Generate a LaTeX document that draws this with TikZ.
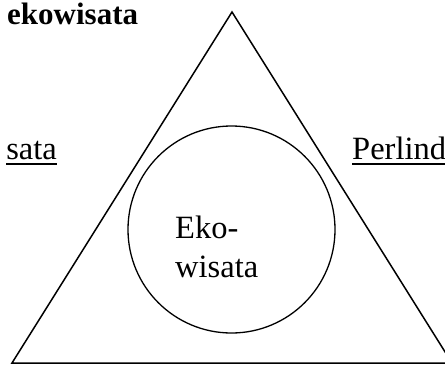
\documentclass[tikz,border=0pt]{standalone}
\usepackage{fontspec}
\setmainfont{Liberation Serif}
\begin{document}
\begin{tikzpicture}[x=1pt,y=-1pt,
  txt/.style={inner sep=0pt,font=\fontsize{32.5}{38}\selectfont},
  ttl/.style={inner sep=0pt,font=\fontsize{31}{36}\selectfont\bfseries},
  edge/.style={line width=1.5pt,line join=miter},
  ring/.style={draw,circle,line width=1.3pt,minimum size=207pt,inner sep=0pt},
  uline/.style={line width=2pt}]
\useasboundingbox (0,0) rectangle (445,365);
\fill[white] (0,0) rectangle (445,365);
\coordinate (A) at (232,12);
\coordinate (B) at (12,363);
\coordinate (C) at (452,363);
\draw[edge] (A) -- (B) -- (C) -- cycle;
\node[ring] (circ) at (231.5,229.5) {};
\node[ttl,anchor=base west] (title) at (7,24) {ekowisata};
\node[txt,anchor=base west] (eko) at (175,238) {Eko-};
\node[txt,anchor=base west] (wis) at (175,277) {wisata};
\node[txt,anchor=base east] (left) at (57,159) {sata};
\node[txt,anchor=base west] (right) at (352,159) {Perlind};
\draw[uline] ([yshift=-4.5pt]left.base west) -- ([yshift=-4.5pt]left.base east);
\draw[uline] ([yshift=-4.5pt]right.base west) -- ([yshift=-4.5pt]right.base east);
\end{tikzpicture}
\end{document}
